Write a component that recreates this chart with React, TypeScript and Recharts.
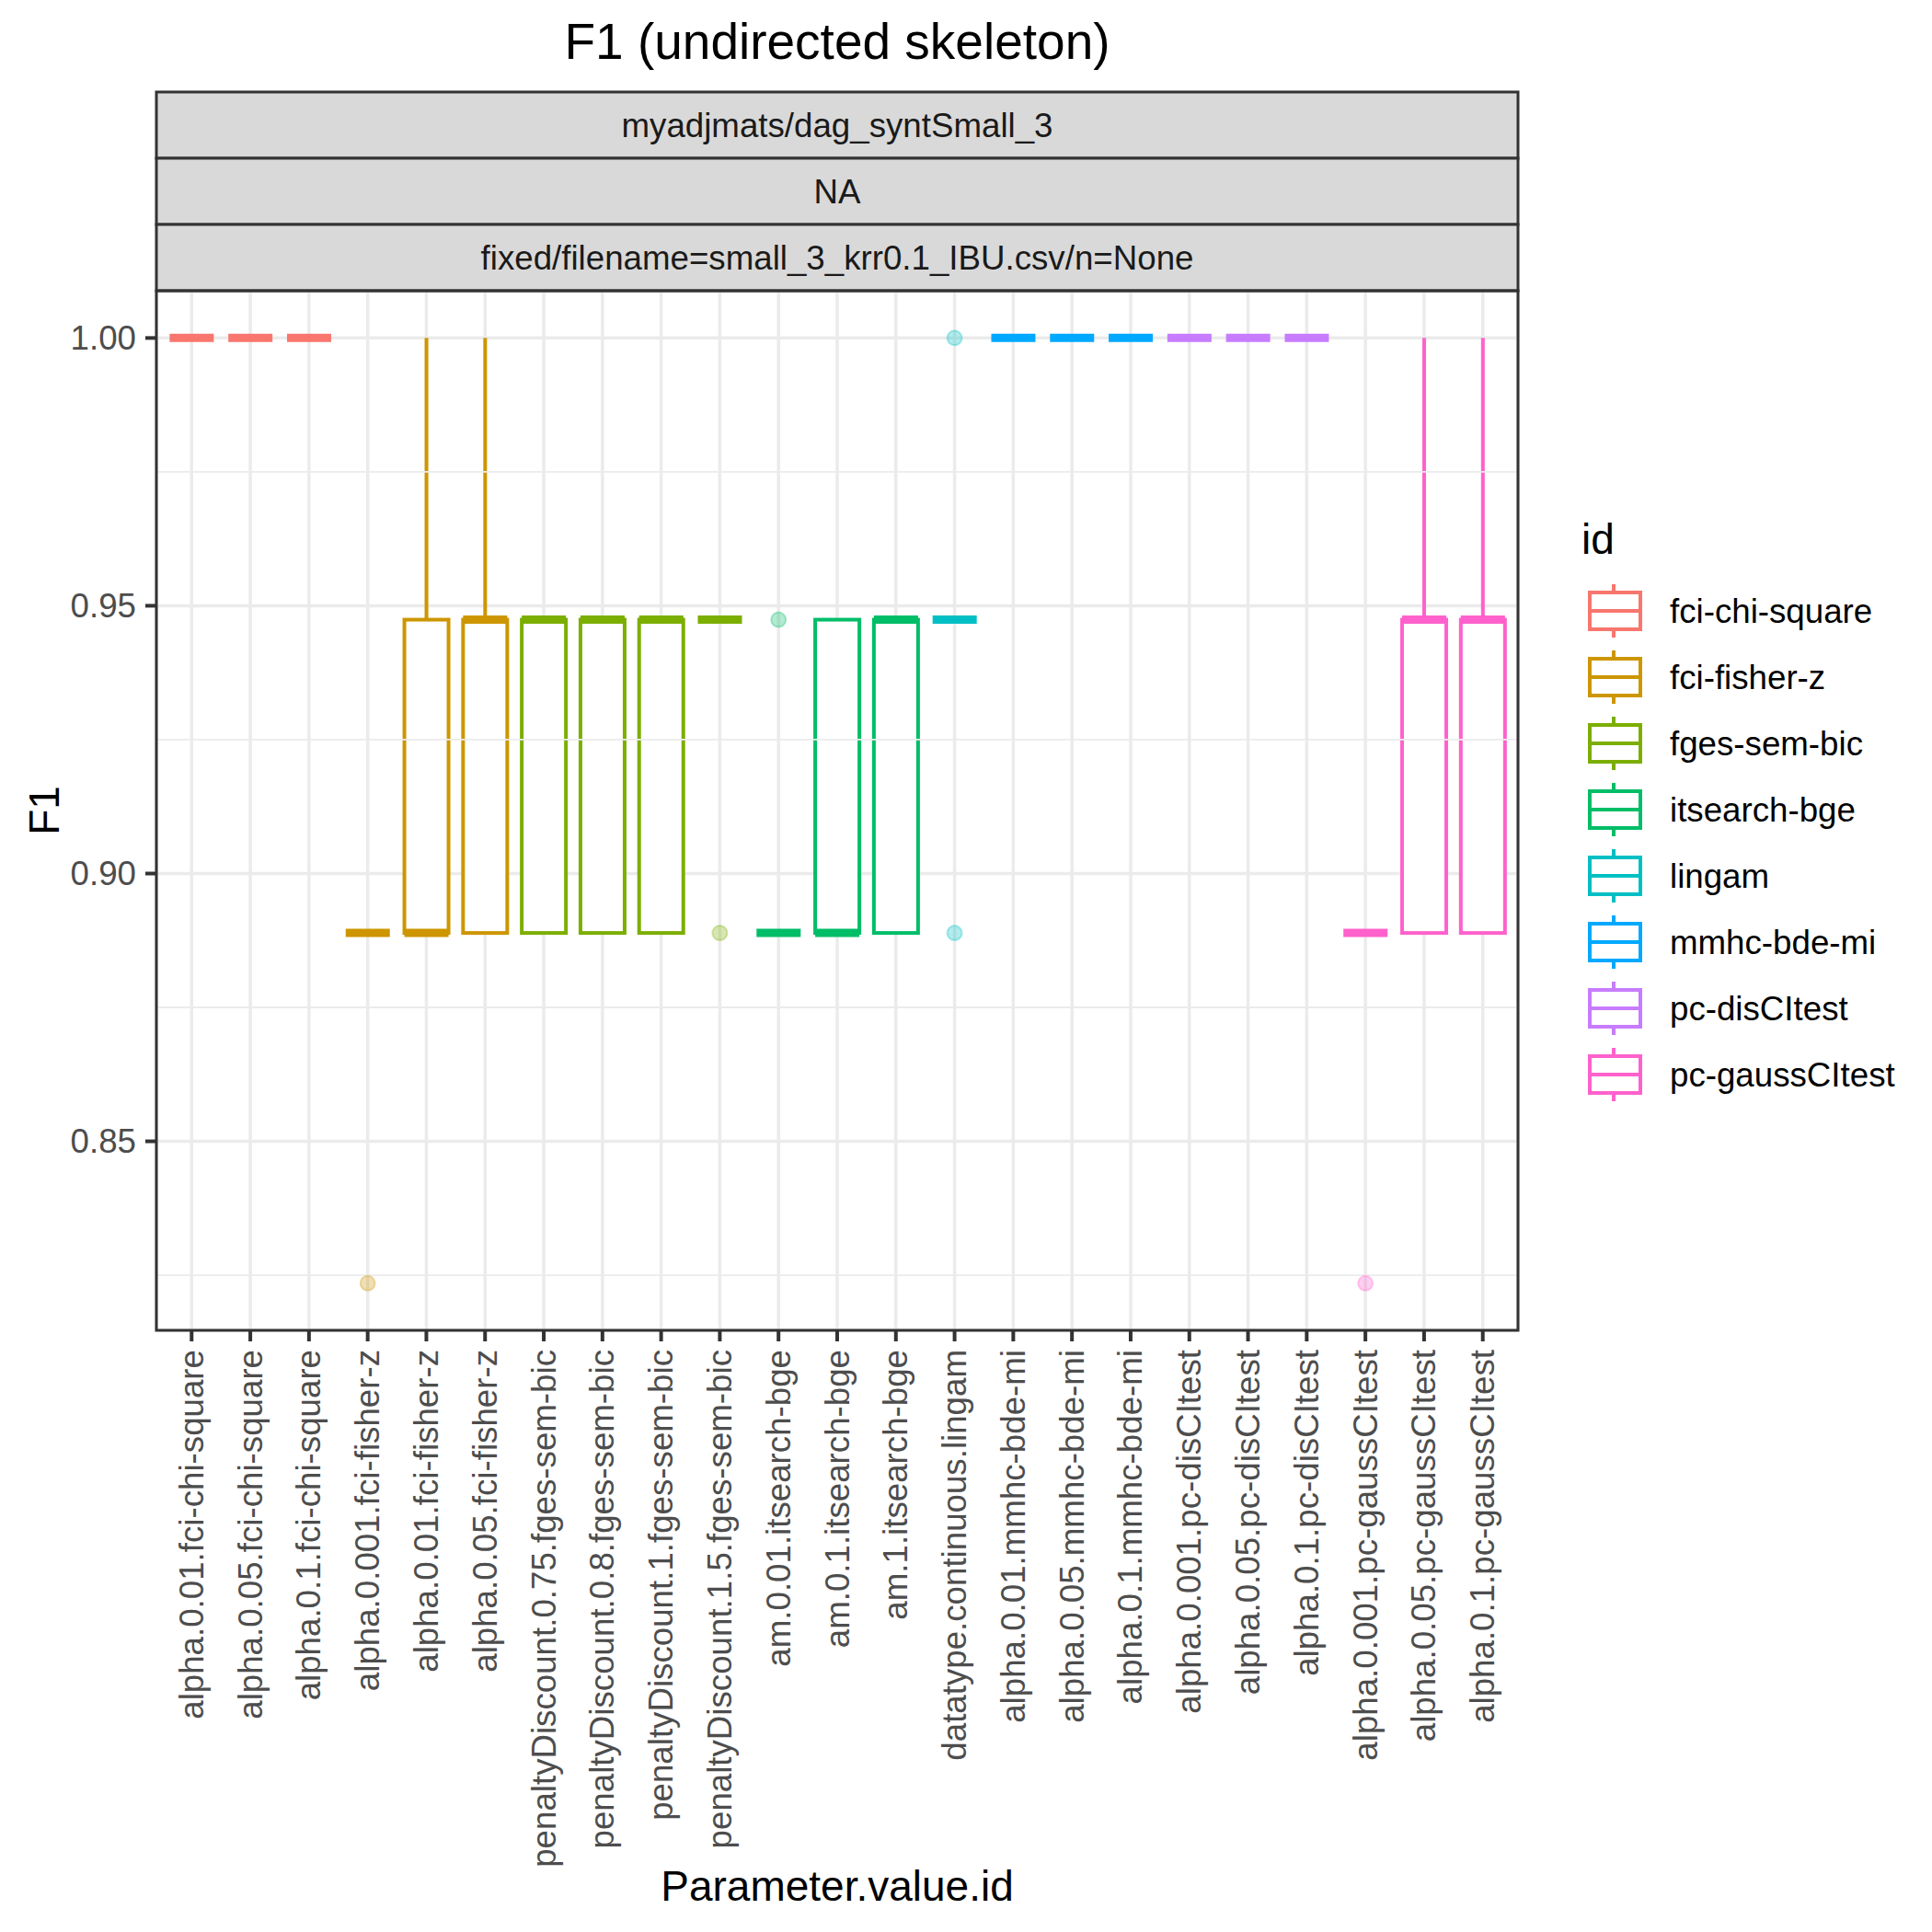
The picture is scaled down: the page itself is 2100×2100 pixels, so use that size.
import React from 'react'
import { ComposedChart, Bar, Scatter, XAxis, YAxis, CartesianGrid, ReferenceLine } from 'recharts'

const categories = [
  'alpha.0.01.fci-chi-square',
  'alpha.0.05.fci-chi-square',
  'alpha.0.1.fci-chi-square',
  'alpha.0.001.fci-fisher-z',
  'alpha.0.01.fci-fisher-z',
  'alpha.0.05.fci-fisher-z',
  'penaltyDiscount.0.75.fges-sem-bic',
  'penaltyDiscount.0.8.fges-sem-bic',
  'penaltyDiscount.1.fges-sem-bic',
  'penaltyDiscount.1.5.fges-sem-bic',
  'am.0.01.itsearch-bge',
  'am.0.1.itsearch-bge',
  'am.1.itsearch-bge',
  'datatype.continuous.lingam',
  'alpha.0.01.mmhc-bde-mi',
  'alpha.0.05.mmhc-bde-mi',
  'alpha.0.1.mmhc-bde-mi',
  'alpha.0.001.pc-disCItest',
  'alpha.0.05.pc-disCItest',
  'alpha.0.1.pc-disCItest',
  'alpha.0.001.pc-gaussCItest',
  'alpha.0.05.pc-gaussCItest',
  'alpha.0.1.pc-gaussCItest',
]

const categoryIds = [
  'fci-chi-square', 'fci-chi-square', 'fci-chi-square',
  'fci-fisher-z', 'fci-fisher-z', 'fci-fisher-z',
  'fges-sem-bic', 'fges-sem-bic', 'fges-sem-bic', 'fges-sem-bic',
  'itsearch-bge', 'itsearch-bge', 'itsearch-bge',
  'lingam',
  'mmhc-bde-mi', 'mmhc-bde-mi', 'mmhc-bde-mi',
  'pc-disCItest', 'pc-disCItest', 'pc-disCItest',
  'pc-gaussCItest', 'pc-gaussCItest', 'pc-gaussCItest',
]

// box statistics per category
const whiskerLow = [1, 1, 1, 0.8889, 0.8889, 0.8889, 0.8889, 0.8889, 0.8889, 0.9474, 0.8889, 0.8889, 0.8889, 0.9474, 1, 1, 1, 1, 1, 1, 0.8889, 0.8889, 0.8889]
const boxLow = [1, 1, 1, 0.8889, 0.8889, 0.8889, 0.8889, 0.8889, 0.8889, 0.9474, 0.8889, 0.8889, 0.8889, 0.9474, 1, 1, 1, 1, 1, 1, 0.8889, 0.8889, 0.8889]
const medians = [1, 1, 1, 0.8889, 0.8889, 0.9474, 0.9474, 0.9474, 0.9474, 0.9474, 0.8889, 0.8889, 0.9474, 0.9474, 1, 1, 1, 1, 1, 1, 0.8889, 0.9474, 0.9474]
const boxHigh = [1, 1, 1, 0.8889, 0.9474, 0.9474, 0.9474, 0.9474, 0.9474, 0.9474, 0.8889, 0.9474, 0.9474, 0.9474, 1, 1, 1, 1, 1, 1, 0.8889, 0.9474, 0.9474]
const whiskerHigh = [1, 1, 1, 0.8889, 1, 1, 0.9474, 0.9474, 0.9474, 0.9474, 0.8889, 0.9474, 0.9474, 0.9474, 1, 1, 1, 1, 1, 1, 0.8889, 1, 1]
const outlierA: (number | null)[] = [null, null, null, 0.8235, null, null, null, null, null, 0.8889, 0.9474, null, null, 1, null, null, null, null, null, null, 0.8235, null, null]
const outlierB: (number | null)[] = [null, null, null, null, null, null, null, null, null, null, null, null, null, 0.8889, null, null, null, null, null, null, null, null, null]

const legendIds = ['fci-chi-square', 'fci-fisher-z', 'fges-sem-bic', 'itsearch-bge', 'lingam', 'mmhc-bde-mi', 'pc-disCItest', 'pc-gaussCItest']
const legendColors = ['#F8766D', '#CD9600', '#7CAE00', '#00BE67', '#00BFC4', '#00A9FF', '#C77CFF', '#FF61CC']

const majorTicks = [0.85, 0.9, 0.95, 1.0]
const minorTicks = [0.825, 0.875, 0.925, 0.975]
const yDomain = [0.814706, 1.008824]

const stripLabels = ['myadjmats/dag_syntSmall_3', 'NA', 'fixed/filename=small_3_krr0.1_IBU.csv/n=None']

const FONT = '"Liberation Sans", Arial, Helvetica, sans-serif'

const data = categories.map((name, i) => ({
  name,
  color: legendColors[legendIds.indexOf(categoryIds[i])],
  lo: whiskerLow[i],
  q1: boxLow[i],
  med: medians[i],
  q3: boxHigh[i],
  hi: whiskerHigh[i],
  range: [whiskerLow[i], whiskerHigh[i]],
  out1: outlierA[i],
  out2: outlierB[i],
}))

const LINE_W = 4
const MEDIAN_W = 9

function BoxShape(props: any) {
  const { x, y, width, height, payload } = props
  if (!payload) return <g />
  const top = Math.min(y, y + height)
  const bottom = Math.max(y, y + height)
  const { lo, hi, q1, q3, med, color } = payload
  const toPx = (v: number) => (hi === lo ? top : top + ((hi - v) / (hi - lo)) * (bottom - top))
  const cx = x + width / 2
  const yq1 = toPx(q1)
  const yq3 = toPx(q3)
  const ym = toPx(med)
  return (
    <g>
      {hi > q3 && <line x1={cx} x2={cx} y1={toPx(hi)} y2={yq3} stroke={color} strokeWidth={LINE_W} />}
      {q1 > lo && <line x1={cx} x2={cx} y1={yq1} y2={toPx(lo)} stroke={color} strokeWidth={LINE_W} />}
      {yq1 - yq3 > 0 && (
        <rect x={x} y={yq3} width={width} height={yq1 - yq3} fill="#FFFFFF" stroke={color} strokeWidth={LINE_W} />
      )}
      <line x1={x} x2={x + width} y1={ym} y2={ym} stroke={color} strokeWidth={MEDIAN_W} />
    </g>
  )
}

const makeOutlier = (key: 'out1' | 'out2') => (props: any) => {
  const { cx, cy, payload } = props
  if (!payload || payload[key] == null || !isFinite(cx) || !isFinite(cy)) return <g />
  return (
    <circle cx={cx} cy={cy} r={8} fill={payload.color} fillOpacity={0.3} stroke={payload.color} strokeOpacity={0.3} strokeWidth={2} />
  )
}

function XTick(props: any) {
  const { x, y, payload } = props
  return (
    <text
      x={x}
      y={y}
      transform={`rotate(-90, ${x}, ${y})`}
      textAnchor="end"
      dominantBaseline="central"
      fontSize={36.7}
      fill="#4D4D4D"
      fontFamily={FONT}
    >
      {payload.value}
    </text>
  )
}

function YTick(props: any) {
  const { x, y, payload } = props
  return (
    <text x={x} y={y} textAnchor="end" dominantBaseline="central" fontSize={36.7} fill="#4D4D4D" fontFamily={FONT}>
      {Number(payload.value).toFixed(2)}
    </text>
  )
}

const PANEL = { left: 170, right: 1650, top: 316, bottom: 1446 }
const STRIP_H = 72

export default function App() {
  const panelW = PANEL.right - PANEL.left
  const pad = (panelW - (panelW * categories.length) / (categories.length - 1 + 1.2)) / 2
  return (
    <div style={{ position: 'relative', width: 2100, height: 2100, background: '#FFFFFF' }}>
      <style>{'body{margin:0;background:#fff}'}</style>
      <div style={{ position: 'absolute', left: 0, top: 0 }}>
        <ComposedChart
          width={2100}
          height={2100}
          data={data}
          margin={{ top: PANEL.top, right: 2100 - PANEL.right, bottom: 2100 - PANEL.bottom - 560, left: PANEL.left - 150 }}
        >
          <CartesianGrid stroke="#EBEBEB" strokeWidth={3.5} />
          {minorTicks.map(v => (
            <ReferenceLine key={v} y={v} stroke="#EBEBEB" strokeWidth={1.8} />
          ))}
          <XAxis
            dataKey="name"
            type="category"
            interval={0}
            height={560}
            padding={{ left: pad, right: pad }}
            tick={<XTick />}
            tickSize={12}
            tickMargin={9}
            axisLine={false}
            tickLine={{ stroke: '#333333', strokeWidth: 4 }}
          />
          <YAxis
            type="number"
            domain={yDomain}
            allowDataOverflow
            ticks={majorTicks}
            width={150}
            tick={<YTick />}
            tickSize={12}
            tickMargin={10}
            axisLine={false}
            tickLine={{ stroke: '#333333', strokeWidth: 4 }}
          />
          <Bar dataKey="range" barSize={48} shape={(p: any) => <BoxShape {...p} />} isAnimationActive={false} />
          <Scatter dataKey="out1" shape={makeOutlier('out1')} isAnimationActive={false} />
          <Scatter dataKey="out2" shape={makeOutlier('out2')} isAnimationActive={false} />
        </ComposedChart>
      </div>
      <svg width={2100} height={2100} style={{ position: 'absolute', left: 0, top: 0, pointerEvents: 'none' }}>
        <text x={(PANEL.left + PANEL.right) / 2} y={64} textAnchor="middle" fontSize={55} fontFamily={FONT} fill="#000000">
          F1 (undirected skeleton)
        </text>
        {stripLabels.map((label, i) => {
          const y0 = 100 + i * STRIP_H
          return (
            <g key={label}>
              <rect x={PANEL.left} y={y0} width={panelW} height={STRIP_H} fill="#D9D9D9" stroke="#333333" strokeWidth={3} />
              <text
                x={(PANEL.left + PANEL.right) / 2}
                y={y0 + STRIP_H / 2}
                textAnchor="middle"
                dominantBaseline="central"
                fontSize={36.7}
                fill="#1A1A1A"
                fontFamily={FONT}
              >
                {label}
              </text>
            </g>
          )
        })}
        <rect x={PANEL.left} y={PANEL.top} width={panelW} height={PANEL.bottom - PANEL.top} fill="none" stroke="#333333" strokeWidth={3} />
        <text
          x={64}
          y={(PANEL.top + PANEL.bottom) / 2}
          transform={`rotate(-90, 64, ${(PANEL.top + PANEL.bottom) / 2})`}
          textAnchor="middle"
          fontSize={46}
          fontFamily={FONT}
          fill="#000000"
        >
          F1
        </text>
        <text x={(PANEL.left + PANEL.right) / 2} y={2066} textAnchor="middle" fontSize={46} fontFamily={FONT} fill="#000000">
          Parameter.value.id
        </text>
        <text x={1719} y={602} fontSize={46} fontFamily={FONT} fill="#000000">
          id
        </text>
        {legendIds.map((id, i) => {
          const top = 628 + i * 72
          const left = 1718
          const c = legendColors[i]
          return (
            <g key={id}>
              <line x1={left + 36} x2={left + 36} y1={top + 7} y2={top + 16} stroke={c} strokeWidth={LINE_W} />
              <line x1={left + 36} x2={left + 36} y1={top + 56} y2={top + 65} stroke={c} strokeWidth={LINE_W} />
              <rect x={left + 10} y={top + 16} width={55} height={40} fill="#FFFFFF" stroke={c} strokeWidth={LINE_W} />
              <line x1={left + 10} x2={left + 65} y1={top + 36} y2={top + 36} stroke={c} strokeWidth={LINE_W} />
              <text x={left + 97} y={top + 36} dominantBaseline="central" fontSize={36.7} fontFamily={FONT} fill="#000000">
                {id}
              </text>
            </g>
          )
        })}
      </svg>
    </div>
  )
}
